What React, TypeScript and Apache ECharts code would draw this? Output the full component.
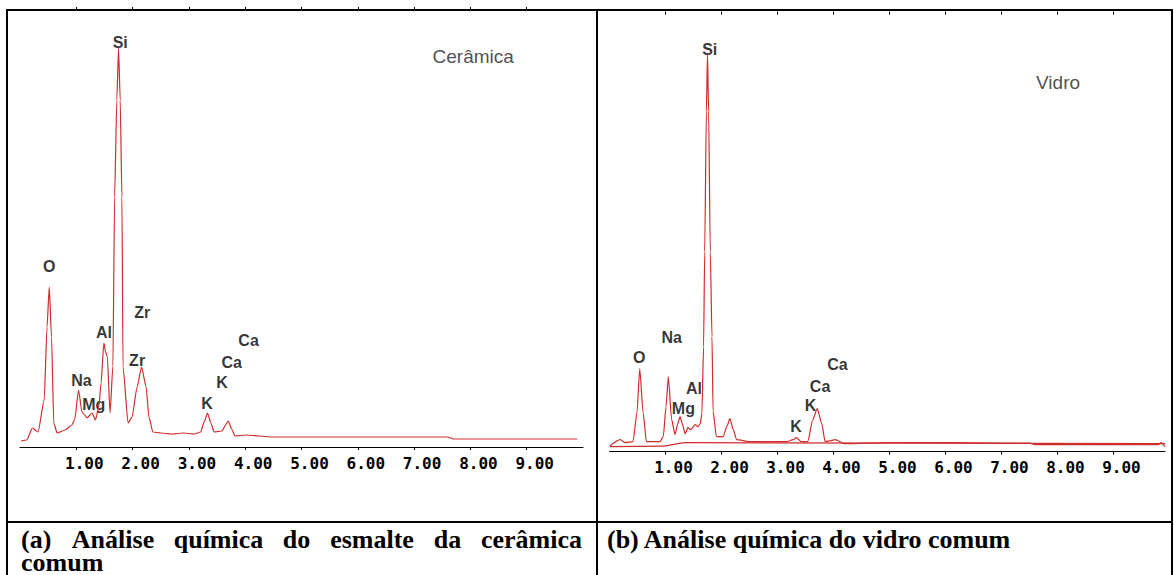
import React, { useEffect, useRef } from "react";
import * as echarts from "echarts";

// ---- Spectrum (a): esmalte da cerâmica (energy keV, counts a.u.) ----
const keVA = [0.02, 0.12, 0.22, 0.32, 0.43, 0.48, 0.52, 0.56, 0.6, 0.66, 0.8, 0.92, 0.97, 1.04, 1.1, 1.15, 1.19, 1.28, 1.34, 1.4, 1.44, 1.49, 1.52, 1.55, 1.6, 1.65, 1.68, 1.72, 1.75, 1.78, 1.81, 1.83, 1.92, 1.99, 2.08, 2.16, 2.24, 2.29, 2.36, 2.5, 2.7, 2.9, 3.1, 3.21, 3.27, 3.33, 3.39, 3.45, 3.59, 3.65, 3.7, 3.76, 3.82, 4.0, 4.5, 5.0, 6.0, 7.0, 7.6, 7.7, 8.5, 9.3, 9.9];
const cntA = [6, 7, 19, 15, 47, 120, 160, 110, 24, 14, 17, 22, 27, 57, 35, 32, 29, 34, 27, 40, 64, 104, 95, 91, 34, 81, 250, 347, 399, 347, 250, 80, 24, 30, 60, 80, 60, 30, 15, 14, 13, 14, 13, 15, 25, 34, 24, 15, 16, 22, 26, 18, 11, 12, 10, 10, 10, 10, 10, 8, 8, 8, 8];

// ---- Spectrum (b): vidro comum ----
const keVB = [0.01, 0.19, 0.28, 0.42, 0.49, 0.54, 0.6, 0.66, 0.9, 0.96, 1.01, 1.05, 1.11, 1.17, 1.22, 1.26, 1.3, 1.35, 1.4, 1.45, 1.53, 1.58, 1.62, 1.65, 1.68, 1.7, 1.73, 1.75, 1.77, 1.8, 1.83, 1.85, 1.91, 2.03, 2.1, 2.15, 2.21, 2.27, 2.5, 2.8, 3.16, 3.28, 3.34, 3.42, 3.54, 3.63, 3.71, 3.79, 3.85, 3.95, 4.03, 4.2, 5.0, 6.0, 7.0, 7.5, 7.6, 9.0, 9.8, 9.85, 9.92];
const cntB = [6, 12, 9, 10, 39, 83, 39, 10, 10, 15, 45, 75, 32, 17, 28, 35, 28, 18, 24, 22, 27, 25, 28, 38, 105, 200, 340, 398, 340, 200, 115, 40, 15, 15, 26, 33, 22, 12, 10, 10, 10, 12, 14, 10, 10, 32, 43, 28, 10, 11, 12, 8, 9, 9, 8.5, 8.5, 7, 7, 7, 9, 5];
const bgKeVB = [0.01, 0.95, 1.35, 9.92];
const bgCntB = [5, 5.5, 9, 8];

// ---- Element labels (name, energy position, height) ----
const labNamesA = ["Si", "O", "Zr", "Al", "Ca", "Zr", "Ca", "Na", "K", "Mg", "K"];
const labKeVA = [1.78, 0.52, 2.17, 1.49, 4.06, 2.08, 3.76, 1.09, 3.59, 1.31, 3.32];
const labCntA = [405, 181, 135, 115, 107, 87, 85, 67, 65, 43, 44];

const labNamesB = ["Si", "Na", "O", "Al", "Mg", "Ca", "Ca", "K", "K"];
const labKeVB = [1.79, 1.11, 0.53, 1.51, 1.32, 4.07, 3.76, 3.59, 3.33];
const labCntB = [402, 114, 94, 63, 43, 87, 65, 46, 25];

const titleA = { name: "Cerâmica", keV: 8.05, cnt: 391 };
const titleB = { name: "Vidro", keV: 8.01, cnt: 369 };

const tickValues = [1, 2, 3, 4, 5, 6, 7, 8, 9];

const captionA = ["(a)", "Análise", "química", "do", "esmalte", "da", "cerâmica"];
const captionA2 = "comum";
const captionB = "(b) Análise química do vidro comum";

const zip = (xs: number[], ys: number[]) => xs.map((x, i) => [x, ys[i]]);

export default function App() {
  const ref = useRef<HTMLDivElement>(null);
  useEffect(() => {
    if (!ref.current) return;
    const chart = echarts.init(ref.current, undefined, { renderer: "svg" });
    const lineColor = "#cf2c2c";
    const mkX = (gi: number, max: number, labels: boolean) => ({
      type: "value",
      gridIndex: gi,
      min: 0,
      max,
      interval: 1,
      splitLine: { show: false },
      axisLine: { show: labels, lineStyle: { color: "#000", width: 1 } },
      axisTick: {
        show: true,
        inside: !labels,
        length: 3,
        customValues: tickValues,
        lineStyle: { color: "#000", width: 1 },
      },
      axisLabel: {
        show: labels,
        customValues: tickValues,
        formatter: (v: number) => v.toFixed(2),
        fontFamily: "DejaVu Sans Mono",
        fontWeight: "bold",
        fontSize: 16,
        color: "#000",
        margin: 8,
        padding: [0, 0, 0, 16],
      },
    });
    const mkY = (gi: number) => ({ type: "value", gridIndex: gi, min: 0, max: 440, show: false });
    const labelSeries = (xi: number, names: string[], ks: number[], cs: number[]) => ({
      type: "scatter",
      xAxisIndex: xi,
      yAxisIndex: xi === 0 ? 0 : 1,
      symbolSize: 1,
      itemStyle: { color: "rgba(0,0,0,0)" },
      clip: false,
      data: names.map((n, i) => [ks[i], cs[i], n]),
      label: {
        show: true,
        position: "inside",
        formatter: (p: any) => p.data[2],
        color: "#000",
        fontFamily: "Liberation Sans",
        fontWeight: "bold",
        fontSize: 16,
      },
    });
    const titleSeries = (xi: number, t: { name: string; keV: number; cnt: number }) => ({
      type: "scatter",
      xAxisIndex: xi,
      yAxisIndex: xi === 0 ? 0 : 1,
      symbolSize: 1,
      itemStyle: { color: "rgba(0,0,0,0)" },
      clip: false,
      data: [[t.keV, t.cnt, t.name]],
      label: {
        show: true,
        position: "inside",
        formatter: (p: any) => p.data[2],
        color: "#222",
        fontFamily: "Liberation Sans",
        fontWeight: "normal",
        fontSize: 19,
      },
    });
    const capFont = { fontFamily: "Liberation Serif", fontWeight: "bold", fontSize: 26, lineHeight: 21, fill: "#000" };
    const capCentersA = [null, 113, 218.5, 296.5, 372, 447.5, null];
    const capGraphics: any[] = captionA.map((w, i) => {
      let x: number, align: string;
      if (i === 0) { x = 21; align = "left"; }
      else if (i === captionA.length - 1) { x = 582; align = "right"; }
      else { x = capCentersA[i] as number; align = "center"; }
      return { type: "text", x, y: 539, style: { text: w, ...capFont, textAlign: align, textVerticalAlign: "middle" } };
    });
    capGraphics.push({ type: "text", x: 21, y: 562, style: { text: captionA2, ...capFont, textAlign: "left", textVerticalAlign: "middle" } });
    capGraphics.push({ type: "text", x: 607, y: 539, style: { text: captionB, ...capFont, textAlign: "left", textVerticalAlign: "middle" } });

    const border = { stroke: "#000", lineWidth: 2 };
    const lineSeries = (xi: number, xs: number[], ys: number[]) => ({
      type: "line",
      xAxisIndex: xi,
      yAxisIndex: xi === 0 ? 0 : 1,
      showSymbol: false,
      smooth: 0.2,
      smoothMonotone: "x",
      data: zip(xs, ys),
      lineStyle: { color: lineColor, width: 1.2 },
    });
    chart.setOption({
      animation: false,
      backgroundColor: "#fff",
      grid: [
        { left: 20, top: 7, width: 563, height: 440 },
        { left: 609.5, top: 11.7, width: 555.5, height: 440 },
      ],
      xAxis: [mkX(0, 10, true), mkX(1, 9.92, true), mkX(0, 10, false), mkX(1, 9.92, false)],
      yAxis: [mkY(0), mkY(1)],
      series: [
        lineSeries(0, keVA, cntA),
        lineSeries(1, bgKeVB, bgCntB),
        lineSeries(1, keVB, cntB),
        labelSeries(0, labNamesA, labKeVA, labCntA),
        labelSeries(1, labNamesB, labKeVB, labCntB),
        titleSeries(0, titleA),
        titleSeries(1, titleB),
      ],
      graphic: [
        { type: "line", shape: { x1: 7, y1: 10, x2: 1173, y2: 10 }, style: border },
        { type: "line", shape: { x1: 7, y1: 9, x2: 7, y2: 576 }, style: border },
        { type: "line", shape: { x1: 597, y1: 9, x2: 597, y2: 576 }, style: border },
        { type: "line", shape: { x1: 1172, y1: 9, x2: 1172, y2: 576 }, style: border },
        { type: "line", shape: { x1: 7, y1: 522, x2: 1173, y2: 522 }, style: border },
        ...capGraphics,
      ],
    });
    return () => chart.dispose();
  }, []);
  return <div ref={ref} style={{ position: "absolute", left: 0, top: 0, width: 1174, height: 575, background: "#fff" }} />;
}
